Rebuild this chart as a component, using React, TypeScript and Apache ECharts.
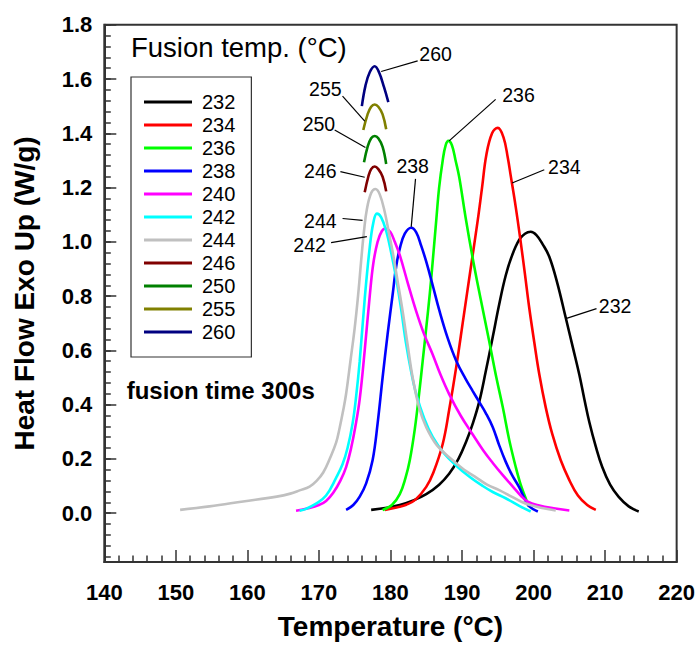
import React, { useEffect, useRef } from 'react';
import * as echarts from 'echarts';

const FONT = '"Liberation Sans", Arial, Helvetica, sans-serif';

const fusionTemps = ['232', '234', '236', '238', '240', '242', '244', '246', '250', '255', '260'];
const seriesColors = ['#000000', '#ff0000', '#00ff00', '#0000ff', '#ff00ff', '#00ffff', '#c0c0c0', '#800000', '#008000', '#808000', '#000080'];

const c232: [number, number][] = [[177.3,0.012],[179.5,0.02],[181.3,0.03],[183,0.045],[185,0.07],[186.8,0.105],[188.2,0.145],[189.5,0.2],[190.6,0.265],[191.5,0.33],[192.4,0.41],[193.3,0.52],[194.3,0.65],[195.2,0.77],[196.1,0.875],[197,0.95],[198,1.008],[198.8,1.03],[199.6,1.037],[200.4,1.025],[201.3,0.99],[202.2,0.945],[203.3,0.85],[204.5,0.72],[205.5,0.61],[206.4,0.51],[207.1,0.42],[207.8,0.335],[208.7,0.245],[209.6,0.17],[210.7,0.105],[211.9,0.06],[213.3,0.025],[214.7,0.006]];
const c234: [number, number][] = [[179.2,0.012],[181,0.022],[182.2,0.031],[183.5,0.05],[185,0.097],[186,0.15],[187.3,0.255],[188.2,0.38],[189.2,0.54],[190.2,0.72],[191.2,0.9],[192.2,1.08],[192.8,1.2],[193.4,1.32],[194.2,1.4],[195,1.42],[195.8,1.385],[196.4,1.31],[196.8,1.245],[197.5,1.13],[198.2,1.0],[198.8,0.88],[199.4,0.756],[200.1,0.63],[200.8,0.512],[201.7,0.39],[202.6,0.293],[203.8,0.195],[205,0.122],[206.2,0.065],[207.5,0.03],[208.7,0.012]];
const c236: [number, number][] = [[178.9,0.012],[180.2,0.03],[181.3,0.07],[182.1,0.13],[182.7,0.195],[183.4,0.31],[184,0.44],[184.5,0.56],[185,0.683],[185.5,0.81],[185.9,0.927],[186.4,1.08],[186.8,1.2],[187.3,1.3],[187.7,1.355],[188.1,1.372],[188.6,1.355],[189.1,1.3],[189.6,1.24],[190.5,1.09],[191.5,0.939],[192.6,0.79],[193.8,0.634],[194.8,0.5],[195.7,0.39],[196.6,0.27],[197.5,0.171],[198.2,0.105],[198.9,0.055],[199.3,0.025]];
const c238: [number, number][] = [[173.8,0.012],[174.8,0.03],[175.7,0.061],[176.6,0.11],[177.5,0.195],[178.2,0.33],[178.9,0.5],[179.6,0.66],[180.3,0.805],[180.8,0.91],[181.3,0.975],[182,1.03],[182.9,1.052],[183.6,1.035],[184.3,0.985],[185,0.927],[185.9,0.84],[186.8,0.75],[188,0.645],[189.2,0.561],[190.5,0.495],[191.5,0.45],[192.4,0.41],[193.3,0.37],[194.3,0.317],[195.2,0.25],[196.1,0.19],[197,0.14],[198,0.095],[198.8,0.05],[199.4,0.025],[200.6,0.006]];
const c240: [number, number][] = [[166.8,0.009],[168.5,0.018],[170,0.03],[171,0.045],[172,0.075],[173,0.12],[173.8,0.17],[174.5,0.24],[175.1,0.32],[175.7,0.42],[176.4,0.6],[177.1,0.8],[177.6,0.92],[178.2,1.0],[178.8,1.04],[179.3,1.049],[180,1.035],[180.6,1.0],[181.3,0.951],[182.4,0.85],[183.6,0.744],[184.7,0.66],[185.9,0.585],[187,0.51],[188.2,0.439],[189.8,0.36],[191.5,0.29],[193,0.23],[194.3,0.185],[195.7,0.14],[197.1,0.098],[198.2,0.065],[199.2,0.042],[200.8,0.028],[202.8,0.018],[205,0.01]];
const c242: [number, number][] = [[167.3,0.009],[168.2,0.016],[169.6,0.035],[171,0.065],[172.4,0.13],[173.3,0.18],[174,0.24],[174.7,0.33],[175.2,0.43],[175.7,0.56],[176.4,0.79],[177.1,0.98],[177.6,1.07],[178.1,1.104],[178.7,1.09],[179.4,1.04],[180.1,0.96],[180.8,0.866],[181.5,0.75],[182.2,0.622],[182.9,0.52],[183.6,0.439],[184.7,0.35],[185.9,0.281],[187.5,0.22],[189.2,0.175],[191,0.135],[192.9,0.1],[194.3,0.078],[196.1,0.055],[198,0.027],[199.6,0.006]];
const c244: [number, number][] = [[150.6,0.012],[154.7,0.025],[159.4,0.043],[164.1,0.061],[166,0.072],[167.3,0.084],[168.7,0.098],[169.7,0.12],[170.6,0.15],[171.5,0.2],[172.4,0.26],[172.9,0.315],[173.4,0.38],[173.8,0.44],[174.4,0.56],[175,0.683],[175.5,0.81],[175.9,0.93],[176.3,1.04],[176.7,1.12],[177.3,1.18],[177.9,1.195],[178.5,1.175],[179.2,1.11],[179.8,1.03],[180.3,0.964],[181,0.855],[181.7,0.744],[182.4,0.62],[183.1,0.5],[184,0.39],[185,0.317],[186.5,0.25],[188.7,0.195],[190.3,0.16],[191.8,0.135],[193.5,0.105],[195.2,0.085],[197,0.06],[198.3,0.042],[199.4,0.031],[201,0.02],[203.1,0.01]];
const c246: [number, number][] = [[176.4,1.183],[176.9,1.24],[177.3,1.268],[177.8,1.278],[178.3,1.268],[178.9,1.24],[179.4,1.186]];
const c250: [number, number][] = [[176.3,1.293],[176.8,1.35],[177.3,1.382],[177.8,1.39],[178.3,1.382],[178.9,1.35],[179.4,1.287]];
const c255: [number, number][] = [[176.2,1.412],[176.8,1.47],[177.3,1.498],[177.8,1.506],[178.3,1.498],[178.9,1.47],[179.4,1.415]];
const c260: [number, number][] = [[176.0,1.5],[176.5,1.575],[177.1,1.625],[177.8,1.647],[178.4,1.625],[179.1,1.57],[179.7,1.515]];

const curves = [c232, c234, c236, c238, c240, c242, c244, c246, c250, c255, c260];

const xTicks = [140, 150, 160, 170, 180, 190, 200, 210, 220];
const yTicks = [0, 0.2, 0.4, 0.6, 0.8, 1.0, 1.2, 1.4, 1.6, 1.8];
const yMinorStep = 0.04;

// annotation labels: label, label position, leader line [start, end] in data coords
const annLabels = ['260', '255', '250', '246', '244', '242', '238', '236', '234', '232'];
const annPos: [number, number][] = [[186.3,1.692],[170.9,1.565],[170.0,1.433],[170.2,1.261],[170.2,1.078],[168.7,0.987],[183.1,1.279],[197.9,1.543],[204.3,1.276],[211.4,0.764]];
const annFrom: [number, number][] = [[183.8,1.667],[173.3,1.537],[172.2,1.412],[173.0,1.259],[173.3,1.086],[171.7,0.997],[183.5,1.232],[194.7,1.525],[201.5,1.266],[208.8,0.754]];
const annTo: [number, number][] = [[178.7,1.628],[176.4,1.445],[176.5,1.348],[176.4,1.238],[176.1,1.079],[176.7,1.019],[182.9,1.055],[188.2,1.372],[197.0,1.217],[204.5,0.717]];

export default function App() {
  const ref = useRef<HTMLDivElement>(null);
  useEffect(() => {
    document.body.style.margin = '0';
    if (!ref.current) return;
    const chart = echarts.init(ref.current, undefined, { renderer: 'svg' });
    const yMin = -0.18;
    const yMax = 1.8;
    const yMinor: number[] = [];
    for (let i = -4; i <= 45; i++) yMinor.push(Math.round(i * yMinorStep * 1000) / 1000);
    const axisColor = '#333';
    chart.setOption({
      animation: false,
      textStyle: { fontFamily: FONT },
      grid: { left: 104.3, right: 20.3, top: 24.8, bottom: 78.3, show: true, borderColor: axisColor, borderWidth: 2, backgroundColor: 'transparent' },
      legend: {
        orient: 'vertical', left: 131, top: 77,
        padding: [15, 16, 15, 13],
        itemWidth: 48, itemHeight: 3, itemGap: 3,
        icon: 'rect',
        borderColor: axisColor, borderWidth: 1.2,
        data: fusionTemps,
        textStyle: { fontSize: 20, lineHeight: 20, color: '#000', fontFamily: FONT, padding: [0, 0, 0, 5] },
      },
      xAxis: {
        type: 'value', min: xTicks[0], max: xTicks[xTicks.length - 1], interval: 10,
        axisLine: { show: true, onZero: false, lineStyle: { color: axisColor, width: 2 } },
        axisTick: { show: true, inside: true, length: 12, lineStyle: { color: axisColor, width: 1.5 } },
        minorTick: { show: true, splitNumber: 5, length: 6.5, lineStyle: { color: axisColor, width: 1.5 } },
        splitLine: { show: false },
        axisLabel: { fontSize: 22, fontWeight: 'bold', color: '#000', margin: 19, fontFamily: FONT },
        name: 'Temperature (°C)', nameLocation: 'middle', nameGap: 50,
        nameTextStyle: { fontSize: 28, fontWeight: 'bold', color: '#000', fontFamily: FONT },
      },
      yAxis: [
        {
          type: 'value', min: yMin, max: yMax,
          axisLine: { show: true, onZero: false, lineStyle: { color: axisColor, width: 2 } },
          axisTick: { show: true, inside: true, length: 12, customValues: yTicks, lineStyle: { color: axisColor, width: 1.5 } },
          axisLabel: { customValues: yTicks, formatter: (v: number) => v.toFixed(1), fontSize: 22, fontWeight: 'bold', color: '#000', margin: 12, fontFamily: FONT, padding: [4, 0, 0, 0] },
          splitLine: { show: false },
          name: 'Heat Flow Exo Up (W/g)', nameLocation: 'middle', nameGap: 66, nameRotate: 90,
          nameTextStyle: { fontSize: 28, fontWeight: 'bold', color: '#000', fontFamily: FONT },
        },
        {
          type: 'value', min: yMin, max: yMax, position: 'left',
          axisLine: { show: false, onZero: false },
          axisTick: { show: true, inside: true, length: 6.5, customValues: yMinor, lineStyle: { color: axisColor, width: 1.5 } },
          axisLabel: { show: false },
          splitLine: { show: false },
        },
      ],
      series: fusionTemps.map((name, i) => ({
        name, type: 'line', data: curves[i], symbol: 'none', showSymbol: false,
        smooth: 0.4,
        xAxisIndex: 0, yAxisIndex: 0,
        lineStyle: { color: seriesColors[i], width: 2.6 },
        itemStyle: { color: seriesColors[i] },
        z: 2 + i,
      })),
    });

    const toPx = (p: [number, number]) => chart.convertToPixel({ xAxisIndex: 0, yAxisIndex: 0 }, p) as number[];
    const elements: any[] = [
      { type: 'text', x: 131, y: 47, style: { text: 'Fusion temp. (°C)', fontSize: 27.5, fontFamily: FONT, fill: '#000', align: 'left', verticalAlign: 'middle' } },
      { type: 'text', x: 126.7, y: 390, style: { text: 'fusion time 300s', fontSize: 24, fontWeight: 'bold', fontFamily: FONT, fill: '#000', align: 'left', verticalAlign: 'middle' } },
    ];
    annLabels.forEach((lab, i) => {
      const a = toPx(annFrom[i]);
      const b = toPx(annTo[i]);
      const t = toPx(annPos[i]);
      elements.push({ type: 'line', shape: { x1: a[0], y1: a[1], x2: b[0], y2: b[1] }, style: { stroke: '#000', lineWidth: 1.2 }, z: 20 });
      elements.push({ type: 'text', x: t[0], y: t[1], style: { text: lab, fontSize: 19.5, fontFamily: FONT, fill: '#000', align: 'center', verticalAlign: 'middle' }, z: 20 });
    });
    chart.setOption({ graphic: { elements } });

    return () => chart.dispose();
  }, []);
  return <div ref={ref} style={{ width: 698, height: 645 }} />;
}
